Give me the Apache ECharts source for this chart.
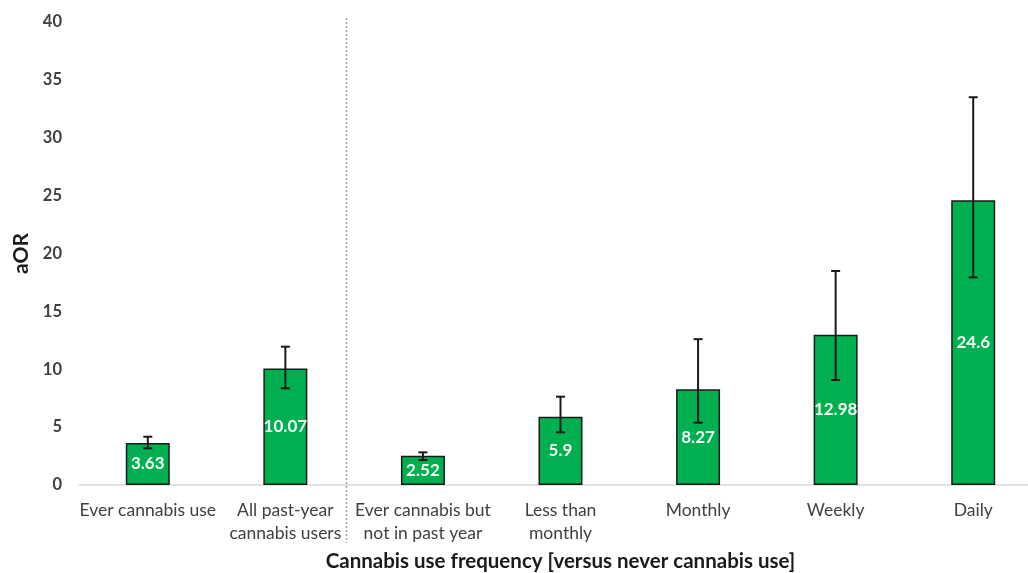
<!DOCTYPE html>
<html>
<head>
<meta charset="utf-8">
<script src="https://cdn.jsdelivr.net/npm/echarts@6/dist/echarts.min.js"></script>
<style>
  html, body { margin: 0; padding: 0; background: #fff; }
  #chart { width: 1028px; height: 573px; }
</style>
</head>
<body>
<div id="chart"></div>
<script>
// categories and values
const categories = [
  'Ever cannabis use',
  'All past-year\ncannabis users',
  'Ever cannabis but\nnot in past year',
  'Less than\nmonthly',
  'Monthly',
  'Weekly',
  'Daily'
];
const aOR = [3.63, 10.07, 2.52, 5.9, 8.27, 12.98, 24.6];
const ciLow = [3.17, 8.35, 2.16, 4.55, 5.38, 9.07, 17.94];
const ciHigh = [4.17, 11.95, 2.82, 7.63, 12.6, 18.49, 33.5];

const FONT = 'Lato, "Open Sans", sans-serif';

const chart = echarts.init(document.getElementById('chart'));

const errorData = categories.map((c, i) => [i, ciLow[i], ciHigh[i]]);

const option = {
  animation: false,
  backgroundColor: '#fff',
  grid: { left: 79, width: 963, top: 22, bottom: 88, outerBoundsMode: 'none' },
  xAxis: {
    type: 'category',
    data: categories,
    axisLine: { lineStyle: { color: '#d9d9d9', width: 1.5 } },
    axisTick: { show: false },
    axisLabel: {
      interval: 0,
      margin: 14,
      fontFamily: FONT,
      fontSize: 17.5,
      lineHeight: 23,
      color: '#404040'
    },
    name: 'Cannabis use frequency [versus never cannabis use]',
    nameLocation: 'middle',
    nameGap: 66,
    nameTextStyle: {
      fontFamily: FONT,
      fontSize: 20.5,
      fontWeight: 'bold',
      color: '#1a1a1a'
    }
  },
  yAxis: {
    type: 'value',
    min: 0,
    max: 40,
    interval: 5,
    axisLine: { show: false },
    axisTick: { show: false },
    splitLine: { show: false },
    axisLabel: {
      margin: 17,
      fontFamily: FONT,
      fontSize: 16.5,
      fontWeight: 'bold',
      color: '#404040'
    },
    name: 'aOR',
    nameLocation: 'middle',
    nameGap: 38,
    nameTextStyle: {
      fontFamily: FONT,
      fontSize: 21,
      fontWeight: 'bold',
      color: '#1a1a1a'
    }
  },
  series: [
    {
      type: 'bar',
      data: aOR,
      barWidth: 44,
      itemStyle: {
        color: '#00b050',
        borderColor: '#1a1a1a',
        borderWidth: 1.5
      },
      label: {
        show: true,
        position: 'inside',
        fontFamily: FONT,
        fontSize: 17,
        fontWeight: 'bold',
        color: '#f2fff5'
      }
    },
    {
      // error bars
      type: 'custom',
      data: errorData,
      z: 10,
      renderItem: (params, api) => {
        const low = api.coord([api.value(0), api.value(1)]);
        const high = api.coord([api.value(0), api.value(2)]);
        const cap = 4.5;
        const style = { stroke: '#1a1a1a', lineWidth: 2 };
        return {
          type: 'group',
          children: [
            { type: 'line', shape: { x1: low[0], y1: low[1], x2: high[0], y2: high[1] }, style },
            { type: 'line', shape: { x1: low[0] - cap, y1: low[1], x2: low[0] + cap, y2: low[1] }, style },
            { type: 'line', shape: { x1: high[0] - cap, y1: high[1], x2: high[0] + cap, y2: high[1] }, style }
          ]
        };
      }
    }
  ]
};

chart.setOption(option);

// dotted separator between the two groups of bars
const x1 = chart.convertToPixel({ xAxisIndex: 0 }, 1);
const x2 = chart.convertToPixel({ xAxisIndex: 0 }, 2);
const sepX = Math.round(x1 + (x2 - x1) * 0.44) + 0.5;
const topY = chart.convertToPixel({ yAxisIndex: 0 }, 40) - 4;
chart.setOption({
  graphic: [{
    type: 'line',
    shape: { x1: sepX, y1: topY, x2: sepX, y2: 543 },
    style: { stroke: '#a6a6a6', lineWidth: 1.5, lineDash: [2, 2] },
    silent: true
  }]
});
</script>
</body>
</html>
